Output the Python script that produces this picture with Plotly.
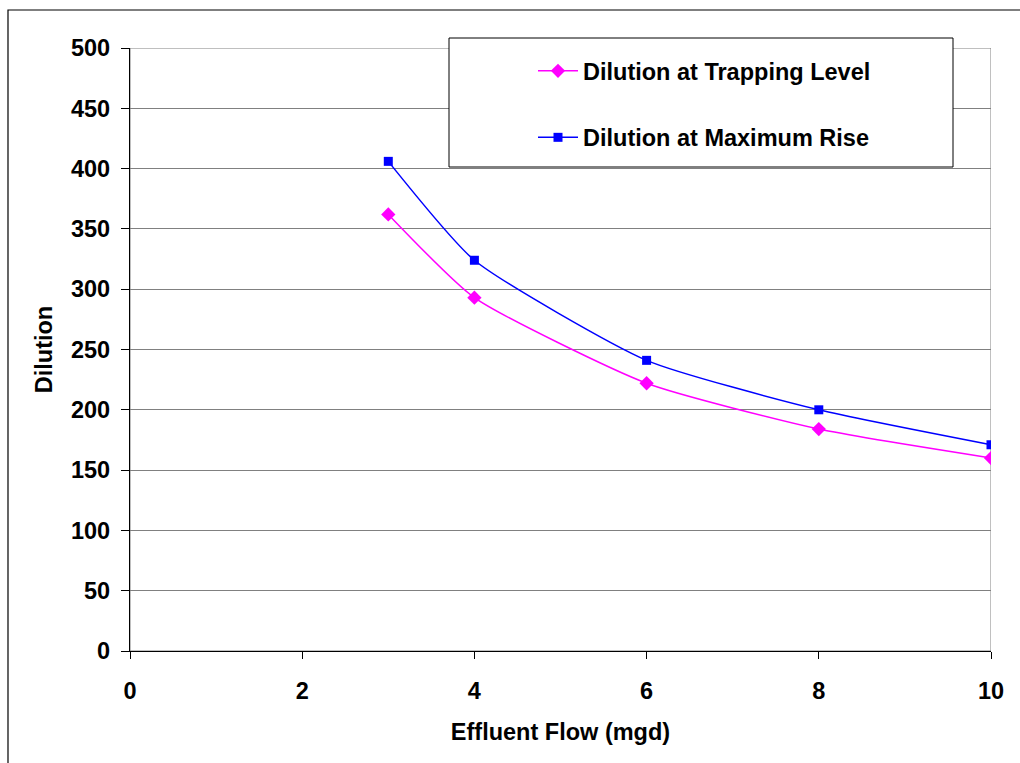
import plotly.graph_objects as go

# Effluent flow (mgd) and the resulting dilutions
flow = [3, 4, 6, 8, 10]
dilution_trapping = [362, 293, 222, 184, 160]
dilution_max_rise = [406, 324, 241, 200, 171]

x_ticks = [0, 2, 4, 6, 8, 10]
y_ticks = [0, 50, 100, 150, 200, 250, 300, 350, 400, 450, 500]

FONT = "Liberation Sans, Arial, sans-serif"
FS = 23.5

fig = go.Figure()

fig.add_trace(go.Scatter(
    x=flow, y=dilution_trapping, mode="lines+markers",
    name="Dilution at Trapping Level", legendgroup="a",
    line=dict(color="#FF00FF", width=1.5, shape="spline", smoothing=0.55),
    marker=dict(symbol="diamond", size=11, color="#FF00FF"),
))
fig.add_trace(go.Scatter(
    x=flow, y=dilution_max_rise, mode="lines+markers",
    name="Dilution at Maximum Rise", legendgroup="b",
    line=dict(color="#0000FF", width=1.5, shape="spline", smoothing=0.55),
    marker=dict(symbol="square", size=9, color="#0000FF"),
))

# plot area frame (gray) and the outer chart border
fig.add_shape(type="rect", xref="x", yref="y", x0=0, x1=10, y0=0, y1=500,
              line=dict(color="#808080", width=1), layer="below")
fig.add_shape(type="rect", xref="paper", yref="paper",
              x0=-0.1417, x1=1.05, y0=-0.2, y1=1.063,
              line=dict(color="black", width=1.2))
# legend frame
fig.add_shape(type="rect", xref="paper", yref="paper",
              x0=(449 - 130) / 861, x1=(953 - 130) / 861,
              y0=(651 - 167) / 603, y1=(651 - 38) / 603,
              line=dict(color="black", width=1), fillcolor="white", layer="above")

fig.update_layout(
    width=1020, height=763,
    margin=dict(l=130, r=29, t=48, b=112),
    paper_bgcolor="white", plot_bgcolor="white",
    font=dict(family=FONT, size=FS, color="black"),
    showlegend=True,
    legend=dict(
        x=(537 - 130 - 4) / 861, xanchor="left",
        y=(651 - 49) / 603, yanchor="top",
        bgcolor="rgba(0,0,0,0)", borderwidth=0,
        font=dict(family=FONT, size=FS, color="black", weight="bold"),
        tracegroupgap=33, itemwidth=40,
    ),
    xaxis=dict(
        range=[0, 10], tickvals=x_ticks, ticktext=[str(v) for v in x_ticks],
        showgrid=False, zeroline=False,
        showline=True, linecolor="black", linewidth=1.2,
        ticks="outside", ticklen=7, tickcolor="black",
        ticklabelstandoff=12,
        tickfont=dict(family=FONT, size=FS, weight="bold"),
        title=dict(text="Effluent Flow (mgd)", standoff=20,
                   font=dict(family=FONT, size=FS, weight="bold")),
    ),
    yaxis=dict(
        range=[0, 500], tickvals=y_ticks, ticktext=[str(v) for v in y_ticks],
        showgrid=True, gridcolor="#808080", gridwidth=1, zeroline=False,
        showline=True, linecolor="black", linewidth=1.2,
        ticks="outside", ticklen=8, tickcolor="black",
        ticklabelstandoff=6,
        tickfont=dict(family=FONT, size=FS, weight="bold"),
        title=dict(text="Dilution", standoff=11,
                   font=dict(family=FONT, size=FS, weight="bold")),
    ),
)

fig.write_html("out.html")
